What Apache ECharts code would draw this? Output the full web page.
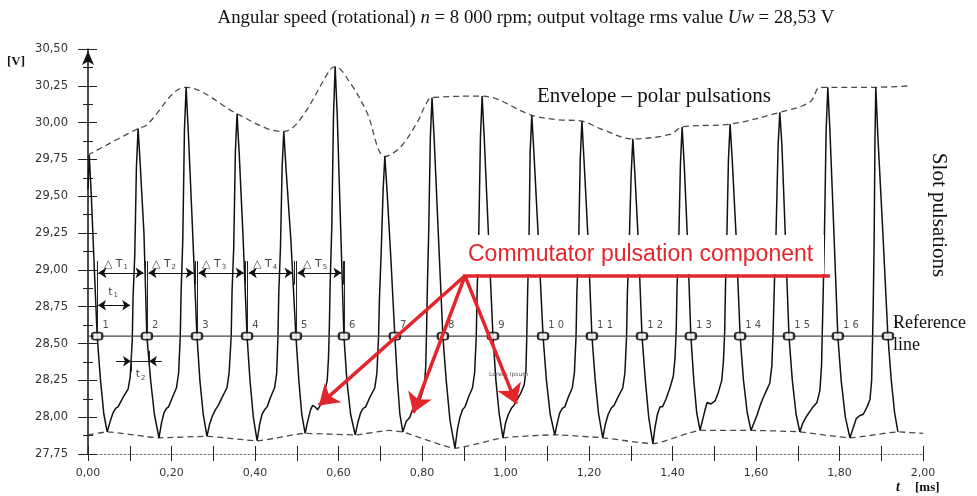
<!DOCTYPE html>
<html><head><meta charset="utf-8">
<script src="https://cdn.jsdelivr.net/npm/echarts@6/dist/echarts.min.js"></script>
<style>html,body{margin:0;padding:0;background:#fff}#c{width:977px;height:496px}</style>
</head><body><div id="c"></div>
<script>
// ---- tick labels ----
const yTickLabels = ['27,75','28,00','28,25','28,50','28,75','29,00','29,25','29,50','29,75','30,00','30,25','30,50'];
const xTickLabels = ['0,00','','0,20','','0,40','','0,60','','0,80','','1,00','','1,20','','1,40','','1,60','','1,80','','2,00'];

// ---- measured waveform [t (ms), U (V)] ----
const wave = [
[0.000,29.55],[0.003,29.78],[0.008,29.50],[0.016,28.95],[0.022,28.55],[0.030,28.25],[0.038,28.02],[0.046,27.90],
[0.053,27.97],[0.060,28.03],[0.066,28.06],[0.072,28.07],[0.085,28.14],[0.096,28.19],[0.101,28.27],[0.106,28.52],[0.108,28.82],[0.112,29.10],[0.116,29.70],[0.120,29.96],
[0.125,29.72],[0.134,29.25],[0.141,28.55],[0.150,28.25],[0.159,28.02],[0.170,27.86],
[0.176,27.96],[0.182,28.03],[0.188,28.06],[0.193,28.07],[0.203,28.14],[0.212,28.20],[0.217,28.30],[0.221,28.55],[0.223,28.85],[0.227,29.20],[0.231,29.95],[0.235,30.24],
[0.240,29.95],[0.250,29.30],[0.261,28.55],[0.268,28.25],[0.276,28.02],[0.285,27.87],
[0.291,27.95],[0.298,28.01],[0.305,28.05],[0.312,28.08],[0.322,28.14],[0.333,28.20],[0.338,28.30],[0.343,28.55],[0.345,28.85],[0.349,29.15],[0.353,29.80],[0.357,30.06],
[0.362,29.80],[0.371,29.25],[0.381,28.55],[0.388,28.25],[0.396,28.00],[0.405,27.84],
[0.411,27.95],[0.417,28.02],[0.423,28.05],[0.429,28.07],[0.438,28.14],[0.447,28.20],[0.452,28.30],[0.455,28.55],[0.457,28.85],[0.461,29.15],[0.465,29.70],[0.469,29.94],
[0.474,29.70],[0.486,29.20],[0.498,28.55],[0.505,28.25],[0.512,28.02],[0.520,27.89],
[0.526,27.97],[0.533,28.05],[0.538,28.08],[0.544,28.07],[0.550,28.05],[0.556,28.08],[0.566,28.16],[0.573,28.25],[0.576,28.40],[0.578,28.60],[0.580,28.90],[0.584,29.30],[0.588,30.05],[0.592,30.38],
[0.597,30.05],[0.605,29.30],[0.613,28.55],[0.620,28.25],[0.629,28.02],[0.640,27.88],
[0.646,27.96],[0.653,28.03],[0.659,28.06],[0.665,28.07],[0.676,28.14],[0.687,28.20],[0.692,28.30],[0.696,28.55],[0.698,28.80],[0.702,29.10],[0.707,29.55],[0.711,29.77],
[0.716,29.55],[0.725,29.10],[0.735,28.55],[0.741,28.25],[0.747,28.02],[0.754,27.90],
[0.762,27.97],[0.771,28.00],[0.777,28.05],[0.783,28.04],[0.790,28.08],[0.799,28.15],[0.806,28.22],[0.809,28.35],[0.811,28.60],[0.813,28.90],[0.816,29.25],[0.820,29.90],[0.824,30.17],
[0.829,29.90],[0.839,29.25],[0.850,28.55],[0.858,28.25],[0.867,27.98],[0.879,27.79],
[0.885,27.92],[0.891,28.00],[0.897,28.05],[0.903,28.07],[0.912,28.14],[0.921,28.20],[0.926,28.30],[0.930,28.55],[0.932,28.85],[0.936,29.25],[0.940,29.90],[0.944,30.18],
[0.949,29.90],[0.959,29.25],[0.970,28.55],[0.977,28.25],[0.985,28.02],[0.994,27.86],
[1.000,27.96],[1.007,28.02],[1.014,28.06],[1.020,28.08],[1.026,28.11],[1.036,28.16],[1.045,28.22],[1.049,28.32],[1.051,28.55],[1.053,28.85],[1.056,29.15],[1.059,29.80],[1.063,30.05],
[1.068,29.80],[1.078,29.25],[1.090,28.55],[1.098,28.25],[1.107,28.02],[1.118,27.88],
[1.124,27.96],[1.130,28.03],[1.136,28.06],[1.142,28.07],[1.151,28.14],[1.160,28.20],[1.165,28.30],[1.169,28.55],[1.171,28.85],[1.175,29.15],[1.179,29.75],[1.183,30.01],
[1.188,29.75],[1.197,29.25],[1.207,28.55],[1.215,28.25],[1.223,28.02],[1.233,27.86],
[1.239,27.95],[1.246,28.02],[1.253,28.06],[1.260,28.08],[1.270,28.14],[1.281,28.20],[1.286,28.30],[1.290,28.55],[1.292,28.85],[1.296,29.15],[1.301,29.65],[1.305,29.89],
[1.310,29.65],[1.318,29.20],[1.327,28.55],[1.335,28.25],[1.343,28.00],[1.353,27.82],
[1.358,27.93],[1.364,28.02],[1.370,28.07],[1.376,28.07],[1.384,28.12],[1.394,28.20],[1.402,28.28],[1.406,28.40],[1.409,28.60],[1.411,28.90],[1.415,29.20],[1.419,29.72],[1.423,29.97],
[1.428,29.72],[1.436,29.20],[1.444,28.55],[1.451,28.25],[1.458,28.03],[1.466,27.91],
[1.472,27.98],[1.478,28.05],[1.483,28.10],[1.492,28.09],[1.502,28.11],[1.510,28.17],[1.518,28.25],[1.522,28.38],[1.525,28.58],[1.527,28.90],[1.530,29.20],[1.534,29.75],[1.538,29.99],
[1.543,29.75],[1.552,29.25],[1.562,28.55],[1.570,28.25],[1.579,28.03],[1.588,27.91],
[1.595,27.96],[1.602,28.01],[1.610,28.08],[1.617,28.13],[1.625,28.18],[1.633,28.23],[1.638,28.35],[1.641,28.58],[1.644,28.90],[1.648,29.25],[1.653,29.85],[1.657,30.07],
[1.662,29.85],[1.670,29.25],[1.679,28.55],[1.687,28.25],[1.696,28.02],[1.705,27.90],
[1.712,27.96],[1.722,28.01],[1.734,28.06],[1.746,28.10],[1.753,28.18],[1.757,28.35],[1.759,28.60],[1.761,28.85],[1.764,29.25],[1.768,29.95],[1.772,30.24],
[1.777,29.95],[1.786,29.30],[1.796,28.55],[1.804,28.25],[1.814,28.00],[1.825,27.86],
[1.832,27.92],[1.840,27.99],[1.848,28.01],[1.857,28.02],[1.866,28.07],[1.873,28.12],[1.877,28.25],[1.879,28.50],[1.881,28.80],[1.883,29.20],[1.885,29.90],[1.887,30.24],
[1.892,29.90],[1.903,29.30],[1.916,28.55],[1.924,28.25],[1.932,28.03],[1.940,27.90]
];

// ---- envelopes ----
const envUpT = [0.000,0.120,0.139,0.235,0.357,0.429,0.469,0.508,0.580,0.592,0.628,0.668,0.711,0.747,0.788,0.812,0.824,0.944,1.063,1.123,1.183,1.226,1.305,1.394,1.423,1.538,1.657,1.729,1.753,1.772,1.887,1.969];
const envUpV = [29.78,29.96,29.98,30.24,30.06,29.96,29.94,30.02,30.36,30.38,30.27,30.07,29.77,29.83,30.00,30.14,30.17,30.18,30.05,30.02,30.01,29.96,29.89,29.92,29.97,29.99,30.07,30.14,30.24,30.24,30.24,30.25];
const envLoT = [0.000,0.046,0.170,0.285,0.405,0.520,0.640,0.720,0.754,0.879,0.994,1.118,1.233,1.353,1.466,1.588,1.705,1.825,1.940,2.000];
const envLoV = [27.88,27.90,27.86,27.87,27.84,27.89,27.88,27.91,27.90,27.79,27.86,27.88,27.86,27.82,27.91,27.91,27.90,27.86,27.90,27.89];

// ---- reference line and crossing markers ----
const refValue = 28.55;
const refEnd = 1.925;
const markerTimes = [0.022,0.141,0.261,0.381,0.498,0.613,0.735,0.850,0.970,1.090,1.207,1.327,1.444,1.562,1.679,1.796,1.916];
const markerLabels = ['1','2','3','4','5','6','7','8','9','1 0','1 1','1 2','1 3','1 4','1 5','1 6','1'];

// ---- period annotations ----
const dtStart = [0.025,0.145,0.265,0.385,0.502];
const dtEnd   = [0.133,0.253,0.373,0.490,0.607];
const dtValue = 28.98;
const dtLabelT = [0.067,0.182,0.302,0.424,0.544];
const dtLabelValue = 29.04;
const dtSub = ['1','2','3','4','5'];
const t1Seg = [0.024,0.101]; const t1Value = 28.76;
const t2Left = [0.067,0.103]; const t2Right = [0.177,0.146]; const t2Value = 28.38;

// ---- commutator annotation (red) ----
const redHub = [0.903,28.96];
const redLineEnd = [1.777,28.96];
const redTargets = [[0.553,28.08],[0.779,28.03],[1.026,28.09]];

const chart = echarts.init(document.getElementById('c'), null, {renderer:'canvas'});

const AX = '#222';
const blackLines = [];
markerTimes.slice(0,6).forEach(t => blackLines.push({coords:[[t,refValue],[t,29.06]]}));
dtEnd.slice(0,5).forEach(t => blackLines.push({coords:[[t+0.004,28.90],[t+0.004,29.06]]}));
blackLines.push({coords:[[t2Left[1],t2Value],[t2Right[1],t2Value]]});
blackLines.push({coords:[[t2Left[1],28.31],[t2Left[1],28.45]]});
blackLines.push({coords:[[t2Right[1],28.31],[t2Right[1],28.45]]});

const bothArrows = dtStart.map((s,i)=>({coords:[[s,dtValue],[dtEnd[i],dtValue]]}));
bothArrows.push({coords:[[t1Seg[0],t1Value],[t1Seg[1],t1Value]]});

const annoLabels = dtLabelT.map((t,i)=>({value:[t,dtLabelValue], label:{formatter:'{d|\u25B3}{t| T}{s|'+dtSub[i]+'}'}}));
annoLabels.push({value:[0.060,28.85], label:{formatter:'{t|t}{s|1}'}});
annoLabels.push({value:[0.126,28.29], label:{formatter:'{t|t}{s|2}'}});

const option = {
  animation:false,
  backgroundColor:'#fff',
  grid:{left:88,right:54,top:49,bottom:42,containLabel:false,outerBoundsMode:'none'},
  xAxis:[
    {type:'value',min:0,max:2,interval:0.1,position:'bottom',
     axisLine:{show:true,onZero:false,lineStyle:{color:'#777',width:1,type:[2,2]}},
     axisTick:{show:true,length:7,lineStyle:{color:AX,width:1}},
     axisLabel:{formatter:v=>xTickLabels[Math.round(v/0.1)],margin:14,color:'#333',fontSize:11,fontFamily:'DejaVu Sans'},
     splitLine:{show:false}},
    {type:'value',min:0,max:2,interval:0.1,position:'bottom',
     axisLine:{show:false,onZero:false},
     axisTick:{show:true,inside:true,length:8,lineStyle:{color:AX,width:1}},
     axisLabel:{show:false},splitLine:{show:false}}
  ],
  yAxis:[
    {type:'value',min:27.75,max:30.5,interval:0.25,position:'left',
     axisLine:{show:true,onZero:false,symbol:['none','arrow'],symbolSize:[9,14],symbolOffset:[0,-2],lineStyle:{color:'#111',width:1.5}},
     axisTick:{show:true,length:10,lineStyle:{color:AX,width:1}},
     minorTick:{show:true,splitNumber:2,length:5,lineStyle:{color:AX,width:1}},
     axisLabel:{formatter:v=>yTickLabels[Math.round((v-27.75)/0.25)],margin:20,color:'#333',fontSize:11.5,fontFamily:'DejaVu Sans'},
     splitLine:{show:false},minorSplitLine:{show:false}},
    {type:'value',min:27.75,max:30.5,interval:0.25,position:'left',
     axisLine:{show:false,onZero:false},
     axisTick:{show:true,inside:true,length:9,lineStyle:{color:AX,width:1}},
     minorTick:{show:true,splitNumber:2,length:5,lineStyle:{color:AX,width:1}},
     axisLabel:{show:false},splitLine:{show:false},minorSplitLine:{show:false}}
  ],
  series:[
    {name:'Upper envelope',type:'line',data:envUpT.map((t,i)=>[t,envUpV[i]]),showSymbol:false,smooth:0.35,silent:true,
     lineStyle:{color:'#4a4a4a',width:1.3,type:[6,4]},z:2},
    {name:'Lower envelope',type:'line',data:envLoT.map((t,i)=>[t,envLoV[i]]),showSymbol:false,smooth:0.15,silent:true,
     lineStyle:{color:'#4a4a4a',width:1.3,type:[6,4]},z:2},
    {name:'Voltage',type:'line',data:wave,showSymbol:false,silent:true,
     lineStyle:{color:'#111',width:1.5},z:3},
    {name:'Reference line',type:'line',data:[[0,refValue],[refEnd,refValue]],showSymbol:false,silent:true,
     lineStyle:{color:'#444',width:1.2},z:3},
    {name:'Markers',type:'scatter',data:markerTimes.map(t=>[t,refValue]),symbol:'roundRect',symbolSize:[10,7],silent:true,
     itemStyle:{color:'#fff',borderColor:'#000',borderWidth:2},
     label:{show:true,formatter:p=>markerLabels[p.dataIndex],position:'right',distance:0,offset:[-1,-11],
            fontSize:10,fontFamily:'DejaVu Sans',color:'#222'},z:5},
    {type:'lines',coordinateSystem:'cartesian2d',xAxisIndex:0,yAxisIndex:0,data:blackLines,silent:true,
     symbol:['none','none'],lineStyle:{color:'#222',width:1,opacity:1,curveness:0},z:4},
    {type:'lines',coordinateSystem:'cartesian2d',xAxisIndex:0,yAxisIndex:0,data:bothArrows,silent:true,
     symbol:['arrow','arrow'],symbolSize:8,lineStyle:{color:'#111',width:1.2,opacity:1,curveness:0},z:4},
    {type:'lines',coordinateSystem:'cartesian2d',xAxisIndex:0,yAxisIndex:0,silent:true,
     data:[{coords:[[t2Left[0],t2Value],[t2Left[1],t2Value]]},{coords:[[t2Right[0],t2Value],[t2Right[1],t2Value]]}],
     symbol:['none','arrow'],symbolSize:8,lineStyle:{color:'#111',width:1.2,opacity:1,curveness:0},z:4},
    {name:'Annotations',type:'scatter',data:annoLabels,symbolSize:1,silent:true,itemStyle:{color:'rgba(0,0,0,0)'},
     label:{show:true,position:'inside',color:'#111',
       rich:{d:{fontSize:11,fontFamily:'DejaVu Sans',color:'#111'},t:{fontSize:11,fontFamily:'DejaVu Sans',color:'#111'},
             s:{fontSize:7,fontFamily:'DejaVu Sans',color:'#111',padding:[7,0,0,1]}}},z:5},
    {type:'lines',coordinateSystem:'cartesian2d',xAxisIndex:0,yAxisIndex:0,silent:true,
     data:[{coords:[[redHub[0]-0.005,redHub[1]],redLineEnd]}],
     symbol:['none','none'],lineStyle:{color:'#e3262b',width:3.5,opacity:1,curveness:0},z:8},
    {type:'lines',coordinateSystem:'cartesian2d',xAxisIndex:0,yAxisIndex:0,silent:true,
     data:redTargets.map(p=>({coords:[redHub,p]})),
     symbol:['none','arrow'],symbolSize:19,lineStyle:{color:'#e3262b',width:3.5,opacity:1,curveness:0},z:8}
  ],
  graphic:[
    {type:'text',x:526,y:18,z:10,style:{text:'{n|Angular speed (rotational) }{i|n}{n| = 8 000 rpm; output voltage rms value }{i|Uw}{n| = 28,53 V}',
      textAlign:'center',textVerticalAlign:'middle',rich:{n:{fontSize:18.8,fontFamily:'Liberation Serif',fill:'#111'},i:{fontSize:18.8,fontFamily:'Liberation Serif',fontStyle:'italic',fill:'#111'}}}},
    {type:'text',x:7,y:62,z:10,style:{text:'[V]',font:'bold 13px "Liberation Serif"',fill:'#111',textVerticalAlign:'middle'}},
    {type:'text',x:896,y:487,z:10,style:{text:'t',font:'italic bold 14px "Liberation Serif"',fill:'#111',textVerticalAlign:'middle'}},
    {type:'text',x:915,y:488,z:10,style:{text:'[ms]',font:'bold 13px "Liberation Serif"',fill:'#111',textVerticalAlign:'middle'}},
    {type:'text',x:537,y:96,z:10,style:{text:'Envelope \u2013 polar pulsations',font:'21px "Liberation Serif"',fill:'#111',textVerticalAlign:'middle'}},
    {type:'text',x:939,y:215,z:10,rotation:-Math.PI/2,style:{text:'Slot pulsations',font:'21px "Liberation Serif"',fill:'#111',textAlign:'center',textVerticalAlign:'middle'}},
    {type:'text',x:893,y:323,z:10,style:{text:'Reference',font:'18px "Liberation Serif"',fill:'#111',textVerticalAlign:'middle'}},
    {type:'text',x:893,y:345,z:10,style:{text:'line',font:'18px "Liberation Serif"',fill:'#111',textVerticalAlign:'middle'}},
    {type:'rect',z:6,shape:{x:462,y:235,width:362,height:39},style:{fill:'#fff'}},
    {type:'text',x:468,y:255,z:7,style:{text:'Commutator pulsation component',font:'23px "Liberation Sans"',fill:'#e3262b',textVerticalAlign:'middle'}},
    {type:'text',x:489,y:374,z:7,style:{text:'Lorem Ipsum',font:'6px "DejaVu Sans"',fill:'#555',textVerticalAlign:'middle'}}
  ]
};
chart.setOption(option);
</script>
</body></html>
